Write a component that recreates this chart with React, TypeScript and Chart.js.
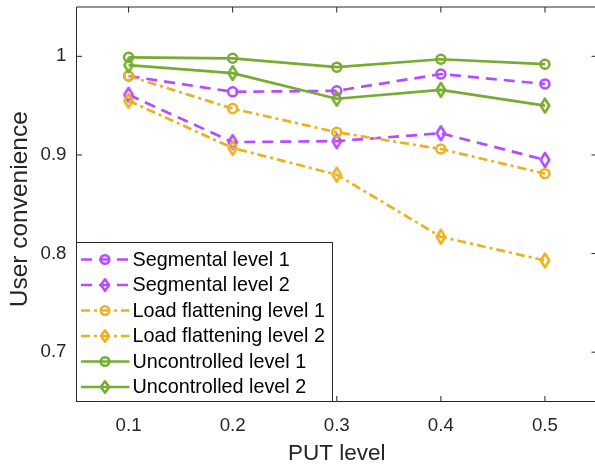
import React, { useEffect, useRef } from "react";
import { Chart, registerables } from "chart.js";

Chart.register(...registerables);

const putLevels = [0.1, 0.2, 0.3, 0.4, 0.5];
const segmental1 = [0.98, 0.964, 0.965, 0.982, 0.972];
const segmental2 = [0.961, 0.913, 0.914, 0.922, 0.895];
const loadFlat1 = [0.98, 0.947, 0.923, 0.906, 0.881];
const loadFlat2 = [0.955, 0.907, 0.88, 0.817, 0.793];
const uncontrolled1 = [0.999, 0.998, 0.989, 0.997, 0.992];
const uncontrolled2 = [0.991, 0.983, 0.957, 0.966, 0.95];

const seriesLabels = [
  "Segmental level 1",
  "Segmental level 2",
  "Load flattening level 1",
  "Load flattening level 2",
  "Uncontrolled level 1",
  "Uncontrolled level 2",
];
const xTickValues = [0.1, 0.2, 0.3, 0.4, 0.5];
const yTickValues = [0.7, 0.8, 0.9, 1.0];
const xTitle = "PUT level";
const yTitle = "User convenience";

const PURPLE = "#B34DFF";
const ORANGE = "#EDB120";
const GREEN = "#77AC30";
const AXIS = "#262626";
const FONT = '"Liberation Sans", Arial, Helvetica, sans-serif';

const DASH = [11, 7];
const DASHDOT = [9, 4, 3, 4];

function makeDiamond(color: string, w: number, h: number, lw: number) {
  const c = document.createElement("canvas");
  const pad = lw + 2;
  c.width = Math.ceil((w + pad * 2) / 2) * 2;
  c.height = Math.ceil((h + pad * 2) / 2) * 2;
  const ctx = c.getContext("2d")!;
  const cx = c.width / 2;
  const cy = c.height / 2;
  ctx.beginPath();
  ctx.moveTo(cx, cy - h / 2);
  ctx.lineTo(cx + w / 2, cy);
  ctx.lineTo(cx, cy + h / 2);
  ctx.lineTo(cx - w / 2, cy);
  ctx.closePath();
  ctx.strokeStyle = color;
  ctx.lineWidth = lw;
  ctx.lineJoin = "round";
  ctx.stroke();
  return c;
}

function zeroPad(s: any) {
  s.paddingTop = 0;
  s.paddingBottom = 0;
  s.paddingLeft = 0;
  s.paddingRight = 0;
}

export default function App() {
  const ref = useRef<HTMLCanvasElement | null>(null);

  useEffect(() => {
    const canvas = ref.current;
    if (!canvas) return;
    const LW = 2.7;
    const MLW = 2.5;
    const dPurple = makeDiamond(PURPLE, 8.5, 14, MLW);
    const dOrange = makeDiamond(ORANGE, 8.5, 14, MLW);
    const dGreen = makeDiamond(GREEN, 8.5, 14, MLW);
    const lPurple = makeDiamond(PURPLE, 8.2, 11.5, MLW);
    const lOrange = makeDiamond(ORANGE, 8.2, 11.5, MLW);
    const lGreen = makeDiamond(GREEN, 8.2, 11.5, MLW);

    const series = [
      { values: segmental1, color: PURPLE, dash: DASH, marker: "circle", img: null, limg: null },
      { values: segmental2, color: PURPLE, dash: DASH, marker: "diamond", img: dPurple, limg: lPurple },
      { values: loadFlat1, color: ORANGE, dash: DASHDOT, marker: "circle", img: null, limg: null },
      { values: loadFlat2, color: ORANGE, dash: DASHDOT, marker: "diamond", img: dOrange, limg: lOrange },
      { values: uncontrolled1, color: GREEN, dash: [], marker: "circle", img: null, limg: null },
      { values: uncontrolled2, color: GREEN, dash: [], marker: "diamond", img: dGreen, limg: lGreen },
    ];

    const datasets = series.map((s, i) => ({
      label: seriesLabels[i],
      data: putLevels.map((x, j) => ({ x, y: s.values[j] })),
      borderColor: s.color,
      backgroundColor: "rgba(0,0,0,0)",
      borderWidth: LW,
      borderDash: s.dash,
      pointStyle: s.marker === "circle" ? "circle" : (s.img as any),
      pointRadius: 4.5,
      pointBorderWidth: MLW,
      pointBorderColor: s.color,
      pointBackgroundColor: "rgba(0,0,0,0)",
      tension: 0,
      order: series.length - 1 - i,
    }));

    const LEG_FONT = `19.8px ${FONT}`;

    const boxPlugin = {
      id: "boxAndLegend",
      afterDraw(chart: any) {
        const { ctx, chartArea: a, scales } = chart;
        const xs = scales.x;
        const ys = scales.y;
        ctx.save();
        ctx.strokeStyle = AXIS;
        ctx.lineWidth = 1;
        ctx.setLineDash([]);
        ctx.beginPath();
        ctx.rect(a.left, a.top, a.right - a.left, a.bottom - a.top);
        ctx.stroke();
        const TL = 5.5;
        ctx.beginPath();
        xTickValues.forEach((v) => {
          const px = xs.getPixelForValue(v);
          ctx.moveTo(px, a.bottom);
          ctx.lineTo(px, a.bottom - TL);
          ctx.moveTo(px, a.top);
          ctx.lineTo(px, a.top + TL);
        });
        yTickValues.forEach((v) => {
          const py = ys.getPixelForValue(v);
          ctx.moveTo(a.left, py);
          ctx.lineTo(a.left + TL, py);
          ctx.moveTo(a.right, py);
          ctx.lineTo(a.right - TL, py);
        });
        ctx.stroke();

        // y-axis title
        ctx.save();
        ctx.fillStyle = AXIS;
        ctx.font = `24.5px ${FONT}`;
        ctx.textAlign = "center";
        ctx.textBaseline = "alphabetic";
        ctx.translate(27, (a.top + a.bottom) / 2 + 5);
        ctx.rotate(-Math.PI / 2);
        ctx.fillText(yTitle, 0, 0);
        ctx.restore();

        // legend
        const rowH = 25.5;
        const lx = a.left;
        const lb = a.bottom;
        const lt = lb - 159;
        ctx.font = LEG_FONT;
        const textX = lx + 56;
        let maxW = 0;
        seriesLabels.forEach((t) => {
          maxW = Math.max(maxW, ctx.measureText(t).width);
        });
        const lr = textX + maxW + 7.5;
        ctx.fillStyle = "#fff";
        ctx.fillRect(lx, lt, lr - lx, lb - lt);
        ctx.strokeStyle = AXIS;
        ctx.lineWidth = 1;
        ctx.strokeRect(lx, lt, lr - lx, lb - lt);
        series.forEach((s, i) => {
          const yy = lt + 17 + i * rowH;
          ctx.save();
          ctx.strokeStyle = s.color;
          ctx.lineWidth = LW;
          ctx.setLineDash(s.dash);
          ctx.beginPath();
          ctx.moveTo(lx + 4.5, yy);
          ctx.lineTo(lx + 53, yy);
          ctx.stroke();
          ctx.setLineDash([]);
          const mx = lx + 28.5;
          if (s.marker === "circle") {
            ctx.lineWidth = MLW;
            ctx.beginPath();
            ctx.arc(mx, yy, 4.3, 0, Math.PI * 2);
            ctx.stroke();
          } else if (s.limg) {
            const im = s.limg as HTMLCanvasElement;
            ctx.drawImage(im, mx - im.width / 2, yy - im.height / 2);
          }
          ctx.restore();
          ctx.fillStyle = "#000";
          ctx.textBaseline = "middle";
          ctx.textAlign = "left";
          ctx.font = LEG_FONT;
          ctx.fillText(seriesLabels[i], textX, yy + 1);
        });
        ctx.restore();
      },
    };

    const chart = new Chart(canvas, {
      type: "line",
      data: { datasets: datasets as any },
      options: {
        responsive: false,
        animation: false,
        layout: { padding: { top: 4, right: 2.5, left: 0, bottom: 0 } },
        plugins: { legend: { display: false }, tooltip: { enabled: false } },
        scales: {
          x: {
            type: "linear",
            min: 0.05,
            max: 0.55,
            grid: { display: false, drawTicks: false },
            border: { display: false },
            afterBuildTicks: (s: any) => {
              s.ticks = xTickValues.map((v) => ({ value: v }));
            },
            afterFit: (s: any) => {
              s.height = 68.5;
              zeroPad(s);
            },
            ticks: {
              font: { family: FONT, size: 18.7 },
              color: AXIS,
              padding: 13,
              maxRotation: 0,
              callback: (v: any) => Number(v).toFixed(1),
            },
            title: {
              display: true,
              text: xTitle,
              font: { family: FONT, size: 22.5 },
              color: AXIS,
              padding: { top: 0, bottom: 3 },
            },
          },
          y: {
            type: "linear",
            min: 0.65,
            max: 1.05,
            grid: { display: false, drawTicks: false },
            border: { display: false },
            afterBuildTicks: (s: any) => {
              s.ticks = yTickValues.map((v) => ({ value: v }));
            },
            afterFit: (s: any) => {
              s.width = 76.5;
              zeroPad(s);
            },
            ticks: {
              font: { family: FONT, size: 18.7 },
              color: AXIS,
              padding: 10,
              callback: (v: any) => (Number(v) === 1 ? "1" : Number(v).toFixed(1)),
            },
            title: { display: false },
          },
        },
      },
      plugins: [boxPlugin],
    });
    return () => chart.destroy();
  }, []);

  return (
    <div
      style={{
        position: "absolute",
        left: 0,
        top: 0,
        width: 595,
        height: 470,
        overflow: "hidden",
        background: "#fff",
      }}
    >
      <canvas ref={ref} width={604} height={470} style={{ display: "block", width: 604, height: 470 }} />
    </div>
  );
}
